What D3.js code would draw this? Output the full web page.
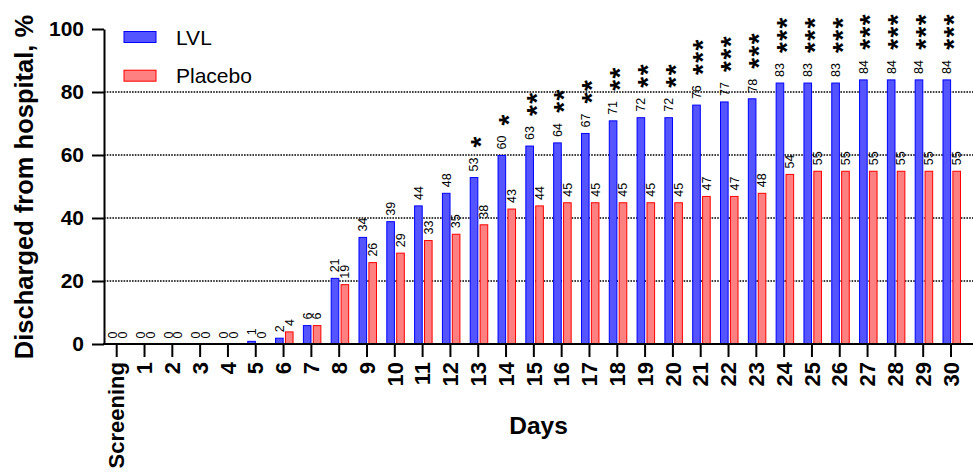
<!DOCTYPE html>
<html>
<head>
<meta charset="utf-8">
<script src="https://cdn.jsdelivr.net/npm/d3@7"></script>
<style>
  html, body { margin: 0; padding: 0; background: #fff; }
  svg { display: block; font-family: "Liberation Sans", Arial, sans-serif; }
</style>
</head>
<body>
<svg id="chart" width="973" height="473"></svg>
<script>
const categories = ["Screening","1","2","3","4","5","6","7","8","9","10","11","12","13","14","15","16","17","18","19","20","21","22","23","24","25","26","27","28","29","30"];
const lvl =     [0,0,0,0,0,1,2,6,21,34,39,44,48,53,60,63,64,67,71,72,72,76,77,78,83,83,83,84,84,84,84];
const placebo = [0,0,0,0,0,0,4,6,19,26,29,33,35,38,43,44,45,45,45,45,45,47,47,48,54,55,55,55,55,55,55];
const significance = ["","","","","","","","","","","","","","*","*","**","**","**","**","**","**","***","***","***","***","***","***","***","***","***","***"];
const seriesNames = ["LVL","Placebo"];
const yTicks = [0,20,40,60,80,100];
const gridValues = [20,40,60,80];

const colors = {
  LVL: { fill: "#5555ff", stroke: "#0000ff" },
  Placebo: { fill: "#ff8080", stroke: "#ff0000" }
};

const svg = d3.select("#chart");
const axisX = 104, chartRight = 973;

const x = d3.scaleBand().domain(categories).range([102.8, 964.9]).paddingInner(0).paddingOuter(0);
const xs = d3.scaleBand().domain(seriesNames).range([-8.5, 10]).paddingInner(0.13);
const y = d3.scaleLinear().domain([0, 100]).range([344, 29]);

const data = categories.map((c, i) => ({ cat: c, LVL: lvl[i], Placebo: placebo[i], sig: significance[i] }));
const cx = c => x(c) + x.bandwidth() / 2;

// gridlines
svg.append("g").selectAll("line").data(gridValues).join("line")
  .attr("x1", axisX).attr("x2", chartRight)
  .attr("y1", d => y(d)).attr("y2", d => y(d))
  .attr("stroke", "#000").attr("stroke-width", 1.6).attr("stroke-dasharray", "1.6,1.2");

// bars
const groups = svg.append("g").selectAll("g").data(data).join("g")
  .attr("transform", d => `translate(${cx(d.cat)},0)`);

seriesNames.forEach(s => {
  groups.filter(d => d[s] > 0).append("rect")
    .attr("x", xs(s) + 0.5)
    .attr("width", xs.bandwidth() - 1)
    .attr("y", d => y(d[s]) + 0.5)
    .attr("height", d => y(0) - y(d[s]) - 0.5)
    .attr("fill", colors[s].fill)
    .attr("stroke", colors[s].stroke)
    .attr("stroke-width", 1);

  groups.append("text")
    .attr("transform", d => `translate(${xs(s) + xs.bandwidth() / 2},${y(d[s]) - 5.5}) rotate(-90)`)
    .attr("dy", "0.35em")
    .attr("text-anchor", "start")
    .attr("font-size", "12.5px")
    .attr("fill", "#000")
    .text(d => d[s]);
});

// significance stars
groups.each(function(d) {
  const g = d3.select(this);
  const stars = d.sig.split("");
  stars.forEach((st, k) => {
    g.append("text")
      .attr("transform", `translate(${xs("LVL") + xs.bandwidth() / 2},${y(d.LVL) - 35 - k * 12.3}) rotate(-90)`)
      .attr("text-anchor", "middle")
      .attr("dy", "0.57em")
      .attr("font-size", "28px")
      .attr("font-weight", "bold")
      .attr("fill", "#000")
      .text(st);
  });
});

// y axis
const yAxis = svg.append("g").attr("transform", `translate(${axisX},0)`)
  .call(d3.axisLeft(y).tickValues(yTicks).tickSize(12).tickSizeOuter(0).tickPadding(8));
yAxis.select(".domain").attr("stroke", "#000").attr("stroke-width", 2);
yAxis.selectAll(".tick line").attr("stroke", "#000").attr("stroke-width", 2);
yAxis.selectAll(".tick text").attr("font-size", "21px").attr("font-weight", "bold")
  .attr("font-family", "Liberation Sans, Arial, sans-serif").attr("fill", "#000");

// x axis
const xAxis = svg.append("g").attr("transform", `translate(0,${y(0)})`)
  .call(d3.axisBottom(x).tickSize(13).tickSizeOuter(0).tickPadding(0));
xAxis.select(".domain").remove();
xAxis.append("line").attr("x1", axisX - 1).attr("x2", chartRight).attr("y1", 0).attr("y2", 0)
  .attr("stroke", "#000").attr("stroke-width", 2);
xAxis.selectAll(".tick line").attr("stroke", "#000").attr("stroke-width", 2);
xAxis.selectAll(".tick text")
  .attr("transform", "translate(0,18) rotate(-90)")
  .attr("y", 0).attr("dy", "0.35em")
  .attr("text-anchor", "end")
  .attr("font-size", "22px").attr("font-weight", "bold")
  .attr("font-family", "Liberation Sans, Arial, sans-serif").attr("fill", "#000");

// axis titles
svg.append("text")
  .attr("transform", "translate(33,187) rotate(-90)")
  .attr("text-anchor", "middle")
  .attr("font-size", "25.5px").attr("font-weight", "bold")
  .text("Discharged from hospital, %");

svg.append("text")
  .attr("x", 538.5).attr("y", 434)
  .attr("text-anchor", "middle")
  .attr("font-size", "24.5px").attr("font-weight", "bold")
  .text("Days");

// legend
const legend = svg.append("g").selectAll("g").data(seriesNames).join("g")
  .attr("transform", (d, i) => `translate(123.5,${31 + i * 38.7})`);
legend.append("rect")
  .attr("x", 0.5).attr("y", 0.5).attr("width", 32).attr("height", 11)
  .attr("fill", d => colors[d].fill).attr("stroke", d => colors[d].stroke).attr("stroke-width", 1);
legend.append("text")
  .attr("x", 52.5).attr("y", 13.5)
  .attr("font-size", "21px")
  .text(d => d);
</script>
</body>
</html>
